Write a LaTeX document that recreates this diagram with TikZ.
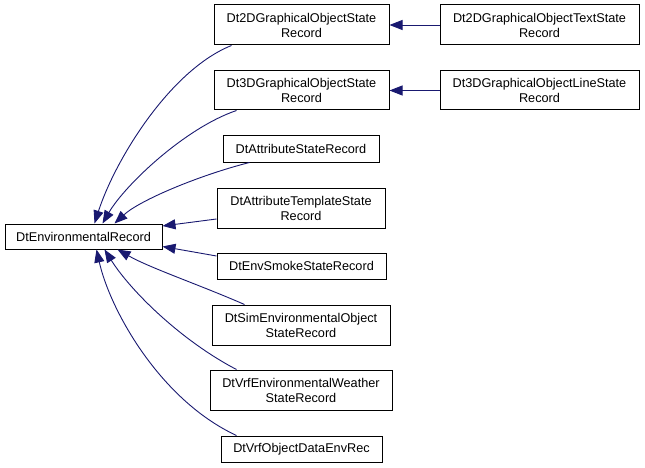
\documentclass[tikz,border=0pt]{standalone}
\usepackage{fontspec}
\setmainfont{Liberation Sans}
\usetikzlibrary{arrows.meta,calc}
\definecolor{edgeblue}{RGB}{25,25,112}
\tikzset{
  cls/.style={draw=black, line width=1pt, fill=white, align=center, inner sep=0pt,
    font=\fontsize{12.7}{15}\selectfont},
  edge/.style={draw=edgeblue, line width=0.9pt, -{Triangle[length=13pt,width=10pt]}},
}
\begin{document}
\begin{tikzpicture}[x=1pt,y=-1pt]
\useasboundingbox (0,0) rectangle (645,468);
\node[cls, minimum width=157pt, minimum height=25pt] (base) at (83.5,236.5) {DtEnvironmentalRecord};
\node[cls, minimum width=175pt, minimum height=40pt] (g2d) at (301.5,25) {Dt2DGraphicalObjectState\\Record};
\node[cls, minimum width=175pt, minimum height=39pt] (g3d) at (301.5,90.5) {Dt3DGraphicalObjectState\\Record};
\node[cls, minimum width=156pt, minimum height=26pt] (attr) at (301,149) {DtAttributeStateRecord};
\node[cls, minimum width=168pt, minimum height=40pt] (attrt) at (301,208) {DtAttributeTemplateState\\Record};
\node[cls, minimum width=169pt, minimum height=26pt] (smoke) at (301.5,266) {DtEnvSmokeStateRecord};
\node[cls, minimum width=178pt, minimum height=40pt] (sim) at (301,325) {DtSimEnvironmentalObject\\StateRecord};
\node[cls, minimum width=182pt, minimum height=40pt] (weather) at (301,390) {DtVrfEnvironmentalWeather\\StateRecord};
\node[cls, minimum width=161pt, minimum height=26pt] (vrfobj) at (301.5,449) {DtVrfObjectDataEnvRec};
\node[cls, minimum width=199pt, minimum height=40pt] (t2d) at (539.5,25) {Dt2DGraphicalObjectTextState\\Record};
\node[cls, minimum width=199pt, minimum height=39pt] (l3d) at (539.5,90.5) {Dt3DGraphicalObjectLineState\\Record};

\draw[edge] (t2d.west) -- (g2d.east);
\draw[edge] (l3d.west) -- (g3d.east);

\draw[edge] ($(g2d.south west)+(18,0)$) .. controls (170,70) and (115,160) .. ($(base.north west)+(90,0)$);
\draw[edge] ($(g3d.south west)+(23,0)$) .. controls (185,128) and (125,185) .. ($(base.north west)+(98,0)$);
\draw[edge] ($(attr.south west)+(27,0)$) .. controls (200,175) and (140,200) .. ($(base.north west)+(110,0)$);
\draw[edge] ($(attrt.west)+(0,11)$) -- ($(base.north east)+(0,2.5)$);
\draw[edge] ($(smoke.west)+(0,-10)$) -- ($(base.south east)+(0,-3)$);
\draw[edge] ($(sim.north west)+(33,0)$) .. controls (200,285) and (150,268) .. ($(base.south west)+(113,0)$);
\draw[edge] ($(weather.north west)+(27,0)$) .. controls (180,340) and (130,290) .. ($(base.south west)+(100,0)$);
\draw[edge] ($(vrfobj.north west)+(16,0)$) .. controls (160,400) and (110,310) .. ($(base.south west)+(92,0)$);
\end{tikzpicture}
\end{document}
